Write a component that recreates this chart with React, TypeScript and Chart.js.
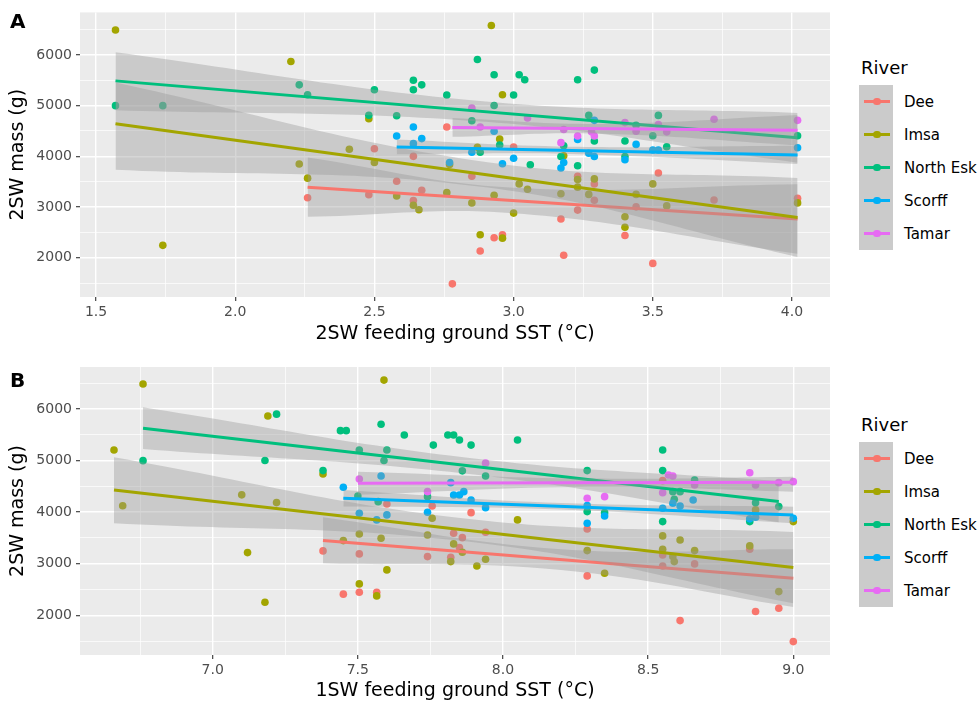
import React, { useEffect, useRef } from 'react';
import { Chart, registerables } from 'chart.js';

Chart.register(...registerables);

const FONT = "'DejaVu Sans', 'Liberation Sans', sans-serif";
const RIVERS = ['Dee', 'Imsa', 'North Esk', 'Scorff', 'Tamar'];
const COLORS = ['#F8766D', '#A3A500', '#00BF7D', '#00B0F6', '#E76BF3'];
const RIBBON = 'rgba(153,153,153,0.4)';

// ---------- Panel A: 2SW feeding ground SST ----------
const aDee = [[2.26,3185],[2.48,3245],[2.50,4150],[2.58,3510],[2.64,4000],[2.64,3130],[2.67,3330],[2.76,4580],[2.78,1486],[2.85,3607],[2.88,2135],[2.93,2395],[2.96,2453],[3.00,4185],[3.17,2765],[3.18,2050],[3.23,3607],[3.23,2940],[3.29,3457],[3.29,3135],[3.40,2440],[3.44,3004],[3.50,1889],[3.52,3671],[3.72,3140],[4.02,3173]];
const aImsa = [[1.57,6490],[1.74,2245],[2.20,5870],[2.23,3850],[2.26,3570],[2.41,4140],[2.48,4742],[2.50,3880],[2.58,3218],[2.64,3037],[2.66,2946],[2.76,3284],[2.77,3840],[2.85,3082],[2.87,4177],[2.88,2453],[2.92,6580],[2.93,3232],[2.95,4340],[2.96,5215],[2.96,2387],[3.00,2881],[3.02,3457],[3.05,3350],[3.17,3262],[3.18,4010],[3.23,3545],[3.23,3393],[3.27,3250],[3.29,3555],[3.40,2810],[3.40,2601],[3.44,3250],[3.50,3457],[3.55,3023],[4.02,3082]];
const aNorthEsk = [[1.57,5000],[1.74,5000],[2.23,5410],[2.26,5215],[2.48,4810],[2.50,5313],[2.58,4800],[2.64,5500],[2.64,5313],[2.67,5410],[2.76,5210],[2.85,4703],[2.87,5910],[2.88,4080],[2.93,5610],[2.93,5002],[2.95,4224],[3.00,5210],[3.02,5610],[3.04,5510],[3.06,3835],[3.17,3996],[3.18,4210],[3.23,5510],[3.23,3815],[3.27,4807],[3.29,5700],[3.29,4302],[3.40,4302],[3.40,3996],[3.44,4612],[3.50,4405],[3.52,4807],[3.55,4190],[4.02,4405]];
const aScorff = [[2.58,4400],[2.64,4580],[2.64,4250],[2.67,4350],[2.77,3880],[2.85,4080],[2.93,4496],[2.96,3854],[3.00,3963],[3.17,3770],[3.18,3880],[3.23,4333],[3.27,4060],[3.29,4710],[3.29,3996],[3.40,3932],[3.44,4236],[3.50,4126],[3.52,4126],[4.02,4171]];
const aTamar = [[2.85,4950],[2.88,4580],[3.05,4755],[3.17,4270],[3.18,4530],[3.23,4400],[3.28,4483],[3.29,4400],[3.40,4665],[3.44,4496],[3.52,4625],[3.55,4483],[3.72,4730],[4.02,4710]];

// fitted lines (x ends, y ends) in river order
const aFitX = [[2.26,4.02],[1.57,4.02],[1.57,4.02],[2.58,4.02],[2.78,4.02]];
const aFitY = [[3393,2765],[4644,2796],[5488,4366],[4185,4029],[4567,4516]];
// confidence bands (start, middle, end)
const aBandX = [[2.26,3.0,4.02],[1.57,2.9,4.02],[1.57,2.9,4.02],[2.58,3.2,4.02],[2.78,3.3,4.02]];
const aBandLo = [[2809,2880,2080],[3737,3390,2018],[4910,4680,3876],[4040,4045,3850],[4385,4450,4216]];
const aBandHi = [[3977,3380,3450],[5455,3890,3574],[6052,5080,4856],[4330,4190,4210],[4755,4640,4816]];

// ---------- Panel B: 1SW feeding ground SST ----------
const bDee = [[7.38,3248],[7.45,2410],[7.505,3190],[7.505,2448],[7.565,2448],[7.60,4159],[7.74,3138],[7.756,4120],[7.82,3126],[7.83,3590],[7.85,3312],[7.86,3505],[7.89,3990],[7.94,3610],[8.29,3674],[8.29,2764],[8.55,4610],[8.55,3170],[8.55,2957],[8.61,1897],[8.66,2996],[8.85,3281],[8.87,2072],[8.95,2137],[9.00,1490]];
const bImsa = [[6.66,5205],[6.69,4125],[6.76,6485],[7.10,4335],[7.12,3215],[7.18,2254],[7.19,5865],[7.22,4185],[7.38,4740],[7.45,3448],[7.505,3577],[7.505,2609],[7.565,2376],[7.58,3494],[7.59,6560],[7.60,2880],[7.74,3558],[7.756,3882],[7.82,3041],[7.83,3384],[7.86,3223],[7.91,2957],[7.94,3087],[8.05,3849],[8.29,3254],[8.35,2816],[8.55,3539],[8.55,3281],[8.585,3138],[8.59,3041],[8.61,3461],[8.66,3254],[8.85,3345],[8.87,4043],[8.95,2459],[9.00,3816]];
const bNorthEsk = [[6.76,4998],[7.18,5000],[7.22,5900],[7.38,4805],[7.44,5580],[7.46,5580],[7.50,4314],[7.505,5205],[7.57,4203],[7.58,5705],[7.59,5000],[7.60,5205],[7.66,5495],[7.74,4300],[7.76,5300],[7.81,5495],[7.83,5495],[7.85,5400],[7.86,4800],[7.89,5300],[7.94,4700],[8.05,5400],[8.29,4805],[8.29,4010],[8.35,3990],[8.55,5205],[8.55,4805],[8.55,3816],[8.585,4397],[8.59,4250],[8.61,4397],[8.66,4624],[8.85,3816],[8.87,4184],[8.95,4107]];
const bScorff = [[7.45,4483],[7.505,3979],[7.565,3849],[7.58,4700],[7.60,3946],[7.74,3998],[7.82,4572],[7.83,4333],[7.85,4333],[7.865,4397],[7.89,4236],[7.94,4087],[8.29,4126],[8.29,3785],[8.35,3926],[8.55,4075],[8.585,4172],[8.61,4120],[8.655,4236],[8.85,3870],[8.87,3901],[9.00,3882]];
const bTamar = [[7.505,4643],[7.74,4397],[7.94,4950],[8.29,4270],[8.35,4300],[8.55,4378],[8.57,4721],[8.585,4702],[8.66,4527],[8.85,4765],[8.87,4527],[8.95,4572],[9.00,4591]];

const bFitX = [[7.38,9.0],[6.66,9.0],[6.76,8.95],[7.45,9.0],[7.5,9.0]];
const bFitY = [[3448,2719],[4430,2925],[5626,4204],[4269,3946],[4560,4579]];
const bBandX = [[7.38,8.2,9.0],[6.66,7.9,9.0],[6.76,7.9,8.95],[7.45,8.2,9.0],[7.5,8.3,9.0]];
const bBandLo = [[3010,2880,2160],[3785,3415,2234],[5225,4730,3804],[4107,4050,3785],[4335,4490,4397]];
const bBandHi = [[3901,3280,3280],[5064,3855,3615],[6033,5040,4604],[4430,4175,4106],[4785,4650,4688]];

// ---------- ticks ----------
const aXMajor = [1.5, 2.0, 2.5, 3.0, 3.5, 4.0];
const aXMinor = [1.75, 2.25, 2.75, 3.25, 3.75];
const bXMajor = [7.0, 7.5, 8.0, 8.5, 9.0];
const bXMinor = [6.75, 7.25, 7.75, 8.25, 8.75];
const yMajor = [2000, 3000, 4000, 5000, 6000];
const yMinor = [1500, 2500, 3500, 4500, 5500, 6500];

const PANEL_A = {
  points: [aDee, aImsa, aNorthEsk, aScorff, aTamar],
  fitX: aFitX, fitY: aFitY, bandX: aBandX, bandLo: aBandLo, bandHi: aBandHi,
  xMin: 1.4425, xMax: 4.1365, yMin: 1227, yMax: 6838,
  xMajor: aXMajor, xMinor: aXMinor,
  xTitle: '2SW feeding ground SST (°C)',
  padTop: 9, xAxisH: 57, xTitlePad: 8.6,
};
const PANEL_B = {
  points: [bDee, bImsa, bNorthEsk, bScorff, bTamar],
  fitX: bFitX, fitY: bFitY, bandX: bBandX, bandLo: bBandLo, bandHi: bBandHi,
  xMin: 6.5429, xMax: 9.1264, yMin: 1230, yMax: 6814,
  xMajor: bXMajor, xMinor: bXMinor,
  xTitle: '1SW feeding ground SST (°C)',
  padTop: 13, xAxisH: 53, xTitlePad: 5.6,
};

const isMajor = (v: number, step: number) => Math.abs(v / step - Math.round(v / step)) < 1e-6;

const panelBg = {
  id: 'panelBg',
  beforeDraw(chart: any) {
    const { ctx, chartArea } = chart;
    if (!chartArea) return;
    ctx.save();
    ctx.fillStyle = '#EBEBEB';
    ctx.fillRect(chartArea.left, chartArea.top, chartArea.right - chartArea.left, chartArea.bottom - chartArea.top);
    ctx.restore();
  },
};

function buildConfig(p: any): any {
  const datasets: any[] = [];
  p.points.forEach((pts: number[][], i: number) => {
    datasets.push({
      type: 'scatter',
      label: RIVERS[i],
      data: pts.map(([x, y]) => ({ x, y })),
      backgroundColor: COLORS[i],
      borderColor: COLORS[i],
      borderWidth: 0,
      pointRadius: 3.8,
      pointBorderWidth: 0,
      order: 14 - i,
    });
  });
  p.bandX.forEach((xs: number[], i: number) => {
    const ord = 9 - 2 * i;
    datasets.push({
      type: 'line',
      label: RIVERS[i] + ' upper',
      data: xs.map((x, j) => ({ x, y: p.bandHi[i][j] })),
      borderColor: 'rgba(0,0,0,0)',
      borderWidth: 0,
      pointRadius: 0,
      fill: false,
      tension: 0.4,
      order: ord,
    });
    datasets.push({
      type: 'line',
      label: RIVERS[i] + ' lower',
      data: xs.map((x, j) => ({ x, y: p.bandLo[i][j] })),
      borderColor: 'rgba(0,0,0,0)',
      borderWidth: 0,
      pointRadius: 0,
      fill: '-1',
      backgroundColor: RIBBON,
      tension: 0.4,
      order: ord,
    });
    datasets.push({
      type: 'line',
      label: RIVERS[i] + ' fit',
      data: p.fitX[i].map((x: number, j: number) => ({ x, y: p.fitY[i][j] })),
      borderColor: COLORS[i],
      borderWidth: 3,
      pointRadius: 0,
      fill: false,
      order: ord - 1,
    });
  });

  const tickFont = { family: FONT, size: 14 };
  const titleFont = { family: FONT, size: 19 };

  return {
    type: 'scatter',
    data: { datasets },
    plugins: [panelBg],
    options: {
      animation: false,
      responsive: false,
      devicePixelRatio: 1,
      events: [],
      layout: { padding: { top: p.padTop, right: 10, left: 0, bottom: 0 } },
      plugins: { legend: { display: false }, tooltip: { enabled: false } },
      scales: {
        x: {
          type: 'linear',
          position: 'bottom',
          min: p.xMin,
          max: p.xMax,
          afterBuildTicks: (s: any) => {
            s.ticks = [...p.xMajor, ...p.xMinor].sort((a, b) => a - b).map((v) => ({ value: v }));
          },
          afterFit: (s: any) => { s.height = p.xAxisH; },
          ticks: {
            autoSkip: false, maxRotation: 0, minRotation: 0, padding: 3,
            color: '#4D4D4D', font: tickFont,
            callback: (v: any) => (isMajor(Number(v), 0.5) ? Number(v).toFixed(1) : ''),
          },
          grid: {
            color: '#FFFFFF',
            lineWidth: (c: any) => (c.tick && isMajor(c.tick.value, 0.5) ? 1.4 : 0.7),
            tickColor: (c: any) => (c.tick && isMajor(c.tick.value, 0.5) ? '#333333' : 'rgba(0,0,0,0)'),
            tickLength: 4,
            tickWidth: 1.1,
          },
          border: { display: false },
          title: {
            display: true, text: p.xTitle, color: '#000000', font: titleFont,
            padding: { top: 0, bottom: p.xTitlePad },
          },
        },
        y: {
          type: 'linear',
          position: 'left',
          min: p.yMin,
          max: p.yMax,
          afterBuildTicks: (s: any) => {
            s.ticks = [...yMajor, ...yMinor].sort((a, b) => a - b).map((v) => ({ value: v }));
          },
          afterFit: (s: any) => { s.width = 80; },
          ticks: {
            autoSkip: false, padding: 4, color: '#4D4D4D', font: tickFont,
            callback: (v: any) => (isMajor(Number(v), 1000) ? String(v) : ''),
          },
          grid: {
            color: '#FFFFFF',
            lineWidth: (c: any) => (c.tick && isMajor(c.tick.value, 1000) ? 1.4 : 0.7),
            tickColor: (c: any) => (c.tick && isMajor(c.tick.value, 1000) ? '#333333' : 'rgba(0,0,0,0)'),
            tickLength: 4,
            tickWidth: 1.1,
          },
          border: { display: false },
          title: {
            display: true, text: '2SW mass (g)', color: '#000000', font: titleFont,
            padding: { top: 6.6, bottom: 0 },
          },
        },
      },
    },
  };
}

function Panel({ cfg, top }: { cfg: any; top: number }) {
  const ref = useRef<HTMLCanvasElement>(null);
  useEffect(() => {
    const chart = new Chart(ref.current as HTMLCanvasElement, buildConfig(cfg));
    return () => chart.destroy();
  }, [cfg]);
  return (
    <canvas
      ref={ref}
      width={840}
      height={354}
      style={{ position: 'absolute', left: 0, top, width: 840, height: 354, display: 'block' }}
    />
  );
}

function Legend({ keyTop }: { keyTop: number }) {
  const step = 33;
  return (
    <>
      <div style={{ position: 'absolute', left: 861, top: keyTop - 29, lineHeight: '24px', fontSize: 18, color: '#000', fontFamily: FONT, whiteSpace: 'nowrap' }}>River</div>
      <div style={{ position: 'absolute', left: 859, top: keyTop, width: 34, height: step * 5, background: '#CBCBCB' }} />
      {RIVERS.map((r, i) => {
        const cy = keyTop + step * i + step / 2;
        return (
          <React.Fragment key={r}>
            <div style={{ position: 'absolute', left: 864, top: cy - 1.5, width: 26, height: 3, background: COLORS[i] }} />
            <div style={{ position: 'absolute', left: 877 - 3.8, top: cy - 3.8, width: 7.6, height: 7.6, borderRadius: '50%', background: COLORS[i] }} />
            <div style={{ position: 'absolute', left: 904, top: cy - 10, lineHeight: '20px', fontSize: 15, color: '#000', fontFamily: FONT, whiteSpace: 'nowrap' }}>{r}</div>
          </React.Fragment>
        );
      })}
    </>
  );
}

export default function App() {
  return (
    <div style={{ position: 'absolute', left: 0, top: 0, width: 980, height: 708, background: '#FFFFFF', overflow: 'hidden', fontFamily: FONT }}>
      <Panel cfg={PANEL_A} top={0} />
      <Panel cfg={PANEL_B} top={354} />
      <div style={{ position: 'absolute', left: 10, top: 10.5, fontSize: 20, lineHeight: '20px', fontWeight: 'bold', color: '#000', fontFamily: FONT }}>A</div>
      <div style={{ position: 'absolute', left: 10, top: 369.5, fontSize: 20, lineHeight: '20px', fontWeight: 'bold', color: '#000', fontFamily: FONT }}>B</div>
      <Legend keyTop={85} />
      <Legend keyTop={442} />
    </div>
  );
}
